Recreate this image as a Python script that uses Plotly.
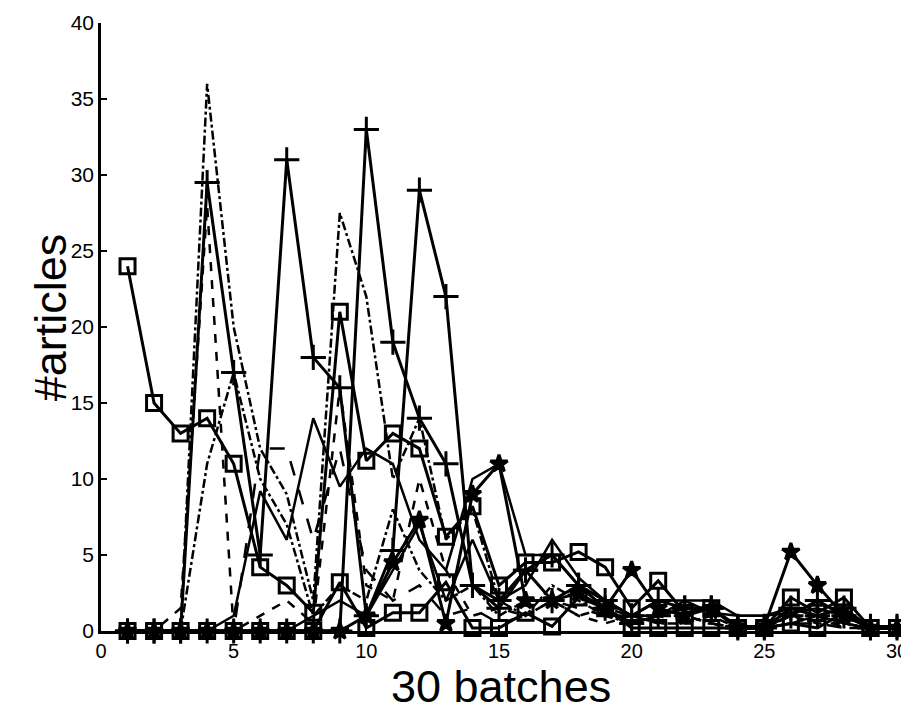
import plotly.graph_objects as go

batches = list(range(1, 31))

# series (approximate)
sq_a = [24, 15, 13, 14, 11, 4.2, 3, 1.2, 21, 11.2, 13, 12, 6.2, 8.2, 3, 4.5, 4.5, 5.2, 4.2, 1.5,
        3.3, 1.2, 1.5, 0.2, 0.2, 2.2, 1.2, 2.2, 0.2, 0.2]
sq_b = [0, 0, 0, 0, 0, 0, 0, 0, 3.2, 0.2, 1.2, 1.2, 3.2, 0.2, 0.2, 1.2, 0.3, 2.2, 1.5, 0.2,
        0.2, 0.2, 0.2, 0.2, 0.2, 0.5, 0.2, 1.2, 0.2, 0.2]
pl_a = [0, 0, 0, 29.5, 17, 5, 31, 18, 16, 1, 5.3, 29, 22, 3, 1.5, 4, 2, 3, 1.5, 0.5,
        1, 1.5, 1.5, 0.2, 0.2, 1.5, 1, 1.5, 0.2, 0.2]
pl_b = [0, 0, 0, 0, 0, 0, 0, 0, 0, 33, 19, 14, 11, 3, 2, 4, 5, 3, 2, 1,
        2, 1.5, 1.5, 0.3, 0.3, 1, 2, 1, 0.3, 0.3]
st_a = [0, 0, 0, 0, 0, 0, 0, 0, 0, 1, 4.5, 7.3, 0.5, 9, 11, 2, 2, 2.5, 1.5, 4,
        1.5, 1, 1.5, 0.3, 0.3, 5.2, 3, 1, 0.2, 0.2]
so_a = [0, 0, 0, 0, 1, 9.2, 6, 14, 9.5, 12, 11, 6, 4, 10, 11, 5, 5, 3, 2, 1,
        2, 2, 2, 1, 1, 1.5, 1, 0.5, 0.2, 0.2]
so_b = [0, 0, 0, 0, 0, 0, 0, 1, 2, 1, 4, 7, 2, 6, 2, 3, 6, 3.5, 2, 1,
        1, 2, 1.2, 1, 1, 1.2, 1.5, 1, 0.2, 0.2]
dd_a = [0, 0, 0, 36, 20, 12, 9, 2, 27.5, 22, 10, 14, 6, 8, 2, 1, 3, 2, 1, 0.5,
        1, 1, 0.5, 0.2, 0.2, 1, 0.5, 0.5, 0.2, 0.2]
dd_b = [0, 0, 0, 11, 17, 10, 7, 1, 3, 2, 8, 4, 2, 3, 1, 2, 2, 1, 1.5, 1,
        0.5, 0.5, 1, 0.2, 0.2, 0.5, 1, 0.5, 0.2, 0.2]
da_a = [0, 0, 1.5, 28, 0, 1, 2, 0.5, 16, 3, 2, 10, 4, 1, 1.5, 1, 2, 1, 0.5, 1,
        0.5, 1, 0.5, 0.2, 0.2, 0.5, 1, 0.2, 0.2, 0.2]
da_b = [0, 0, 0, 0, 0, 12, 12, 6, 12, 4, 2, 3, 1, 1.5, 0.5, 1, 2, 1.5, 1, 0.5,
        1, 0.5, 0.5, 0.2, 0.2, 0.5, 0.5, 0.2, 0.2, 0.2]

x_title = "30 batches"
y_title = "#articles"

series = [
    (sq_a, "solid", "square-open", 15),
    (sq_b, "solid", "square-open", 15),
    (pl_a, "solid", "cross-thin", 18),
    (pl_b, "solid", "cross-thin", 18),
    (st_a, "solid", "star", 13),
    (so_a, "solid", None, 0),
    (so_b, "solid", None, 0),
    (dd_a, "dashdot", None, 0),
    (dd_b, "dashdot", None, 0),
    (da_a, "dash", None, 0),
    (da_b, "longdash", None, 0),
]

fig = go.Figure()
for vals, dash, sym, size in series:
    if sym:
        fig.add_trace(go.Scatter(
            x=batches, y=vals, mode="lines+markers",
            line=dict(color="black", width=3, dash=dash),
            marker=dict(symbol=sym, size=size, color="black",
                        line=dict(color="black", width=3)),
            showlegend=False, cliponaxis=False))
    else:
        fig.add_trace(go.Scatter(
            x=batches, y=vals, mode="lines",
            line=dict(color="black", width=2.5, dash=dash),
            showlegend=False))

fig.update_layout(
    width=901, height=708,
    margin=dict(l=93, r=12, t=15, b=85),
    paper_bgcolor="white", plot_bgcolor="white",
    font=dict(family="Liberation Sans, Arial, sans-serif", color="black"),
    annotations=[
        dict(text=x_title, xref="paper", yref="paper", x=0.5025, y=-0.091,
             xanchor="center", yanchor="middle", showarrow=False, borderpad=0,
             font=dict(size=45)),
        dict(text=y_title, xref="paper", yref="paper", x=-0.064, y=0.516,
             xanchor="center", yanchor="middle", showarrow=False, textangle=-90,
             font=dict(size=45)),
    ],
)
fig.update_xaxes(
    range=[0, 30], tickvals=[0, 5, 10, 15, 20, 25, 30],
    ticks="inside", ticklen=6, tickwidth=2, tickcolor="black",
    showline=True, linecolor="black", linewidth=2.5, showgrid=False, zeroline=False,
    tickfont=dict(size=20), automargin=False,
)
fig.update_yaxes(
    range=[0, 40], tickvals=[0, 5, 10, 15, 20, 25, 30, 35, 40],
    ticks="inside", ticklen=6, tickwidth=2, tickcolor="black",
    showline=True, linecolor="black", linewidth=2.5, showgrid=False, zeroline=False,
    tickfont=dict(size=21), automargin=False,
)

fig.write_html("out.html")
